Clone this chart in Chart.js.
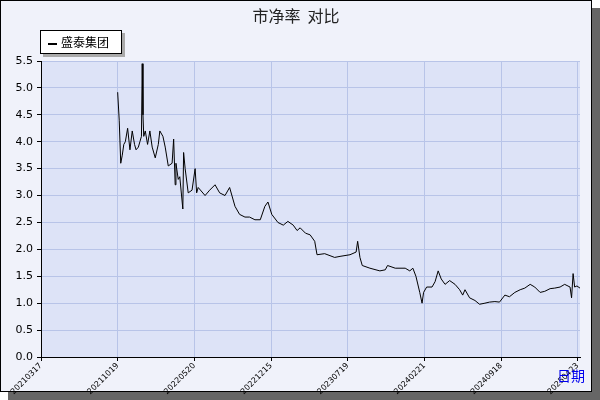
<!DOCTYPE html>
<html>
<head>
<meta charset="utf-8">
<script src="https://cdn.jsdelivr.net/npm/chart.js@4"></script>
<style>
  body { margin: 0; }
  #wrap { position: relative; width: 600px; height: 400px; }
  .txt { position: absolute; font-family: "Noto Sans CJK SC", sans-serif; }
</style>
</head>
<body>
<div id="wrap">
  <canvas id="chartCanvas" width="600" height="400"></canvas>
  <div class="txt" style="left:0;width:592px;top:3px;text-align:center;font-size:16px;color:#222;">市净率&nbsp;&nbsp;对比</div>
  <div class="txt" style="left:40px;top:30px;width:82px;height:24px;border:1px solid #000;background:#fff;box-shadow:3px 3px 0 #aaa;font-size:12px;line-height:22px;box-sizing:border-box;padding-left:7px;">
    <span style="display:inline-block;width:9px;height:2px;background:#000;vertical-align:middle;margin-right:4px;"></span>盛泰集团</div>
  <div class="txt" style="left:557px;top:365px;font-size:14px;color:#0000ee;">日期</div>
</div>
<script>
const tickLabels = ['20210317', '20211019', '20220520', '20221215', '20230719', '20240221', '20240918', '20250423'];
const seriesName = '盛泰集团';
// position in tick units (one unit per date label) and price-to-book value
const xPos = [1.00, 1.02, 1.04, 1.06, 1.08, 1.10, 1.13, 1.16, 1.19, 1.22, 1.24, 1.27, 1.29, 1.31, 1.32, 1.33, 1.34, 1.36, 1.39, 1.42, 1.45, 1.49, 1.53, 1.55, 1.59, 1.62, 1.66, 1.71, 1.73, 1.75, 1.76, 1.79, 1.81, 1.85, 1.86, 1.88, 1.92, 1.97, 2.01, 2.03, 2.05, 2.14, 2.20, 2.27, 2.33, 2.40, 2.46, 2.53, 2.59, 2.66, 2.72, 2.79, 2.86, 2.92, 2.96, 3.01, 3.09, 3.16, 3.22, 3.29, 3.34, 3.38, 3.45, 3.51, 3.57, 3.60, 3.70, 3.83, 3.90, 4.03, 4.11, 4.13, 4.16, 4.19, 4.29, 4.42, 4.49, 4.52, 4.62, 4.75, 4.81, 4.85, 4.89, 4.94, 4.97, 4.99, 5.03, 5.10, 5.14, 5.18, 5.22, 5.27, 5.33, 5.40, 5.46, 5.50, 5.53, 5.59, 5.66, 5.72, 5.79, 5.85, 5.92, 5.98, 6.05, 6.11, 6.18, 6.25, 6.31, 6.38, 6.44, 6.51, 6.57, 6.64, 6.70, 6.77, 6.83, 6.90, 6.92, 6.94, 6.96, 6.99, 7.03];
const pbValues = [4.92, 4.40, 3.60, 3.75, 3.95, 4.00, 4.25, 3.85, 4.20, 3.95, 3.85, 3.90, 4.00, 4.10, 5.45, 4.50, 4.10, 4.20, 3.95, 4.20, 3.90, 3.70, 3.95, 4.20, 4.10, 3.90, 3.55, 3.60, 4.05, 3.20, 3.60, 3.30, 3.35, 2.75, 3.80, 3.50, 3.05, 3.10, 3.50, 3.05, 3.15, 3.00, 3.10, 3.20, 3.05, 3.00, 3.15, 2.80, 2.65, 2.60, 2.60, 2.55, 2.55, 2.80, 2.88, 2.65, 2.50, 2.45, 2.52, 2.45, 2.35, 2.40, 2.30, 2.27, 2.15, 1.90, 1.92, 1.85, 1.87, 1.90, 1.95, 2.15, 1.85, 1.70, 1.65, 1.60, 1.62, 1.70, 1.65, 1.65, 1.60, 1.65, 1.50, 1.20, 1.00, 1.20, 1.30, 1.30, 1.40, 1.60, 1.45, 1.35, 1.42, 1.35, 1.25, 1.15, 1.25, 1.10, 1.05, 0.98, 1.00, 1.02, 1.03, 1.02, 1.15, 1.12, 1.20, 1.25, 1.28, 1.35, 1.30, 1.20, 1.22, 1.27, 1.28, 1.30, 1.35, 1.30, 1.10, 1.55, 1.30, 1.32, 1.28];

const frame = {
  id: 'frame',
  beforeDraw(chart) {
    const c = chart.ctx, a = chart.chartArea;
    c.save();
    c.fillStyle = '#666';
    c.fillRect(8, 8, 592, 392);
    c.fillStyle = '#f0f2fa';
    c.fillRect(0, 0, 592, 392);
    c.strokeStyle = '#000';
    c.lineWidth = 1;
    c.strokeRect(0.5, 0.5, 591, 391);
    c.fillStyle = '#dde3f7';
    c.fillRect(a.left, a.top, a.right - a.left, a.bottom - a.top);
    c.restore();
  }
};

new Chart(document.getElementById('chartCanvas').getContext('2d'), {
  type: 'line',
  data: {
    datasets: [{
      label: seriesName,
      data: xPos.map((x, i) => ({ x: x, y: pbValues[i] })),
      borderColor: '#000',
      borderWidth: 1,
      pointRadius: 0,
      tension: 0
    }]
  },
  options: {
    responsive: false,
    animation: false,
    layout: { padding: { top: 61, right: 20, left: 0, bottom: 0 } },
    plugins: { legend: { display: false }, tooltip: { enabled: false } },
    scales: {
      x: {
        type: 'linear', min: 0, max: 7.03,
        afterFit: s => { s.height = 43; },
        afterBuildTicks: s => { s.ticks = tickLabels.map((t, i) => ({ value: i })); },
        ticks: {
          callback: v => tickLabels[v],
          minRotation: 45, maxRotation: 45,
          color: '#000', font: { family: 'DejaVu Sans', size: 8 }, padding: 0
        },
        grid: { color: '#b8c4e8', tickColor: '#000', tickLength: 4 },
        border: { color: '#000' }
      },
      y: {
        min: 0, max: 5.5,
        afterFit: s => { s.width = 41; },
        ticks: {
          stepSize: 0.5,
          callback: v => v.toFixed(1),
          color: '#000', font: { family: 'DejaVu Sans', size: 11 }, padding: 4
        },
        grid: { color: '#b8c4e8', tickColor: '#000', tickLength: 4 },
        border: { color: '#000' }
      }
    }
  },
  plugins: [frame]
});
</script>
</body>
</html>
